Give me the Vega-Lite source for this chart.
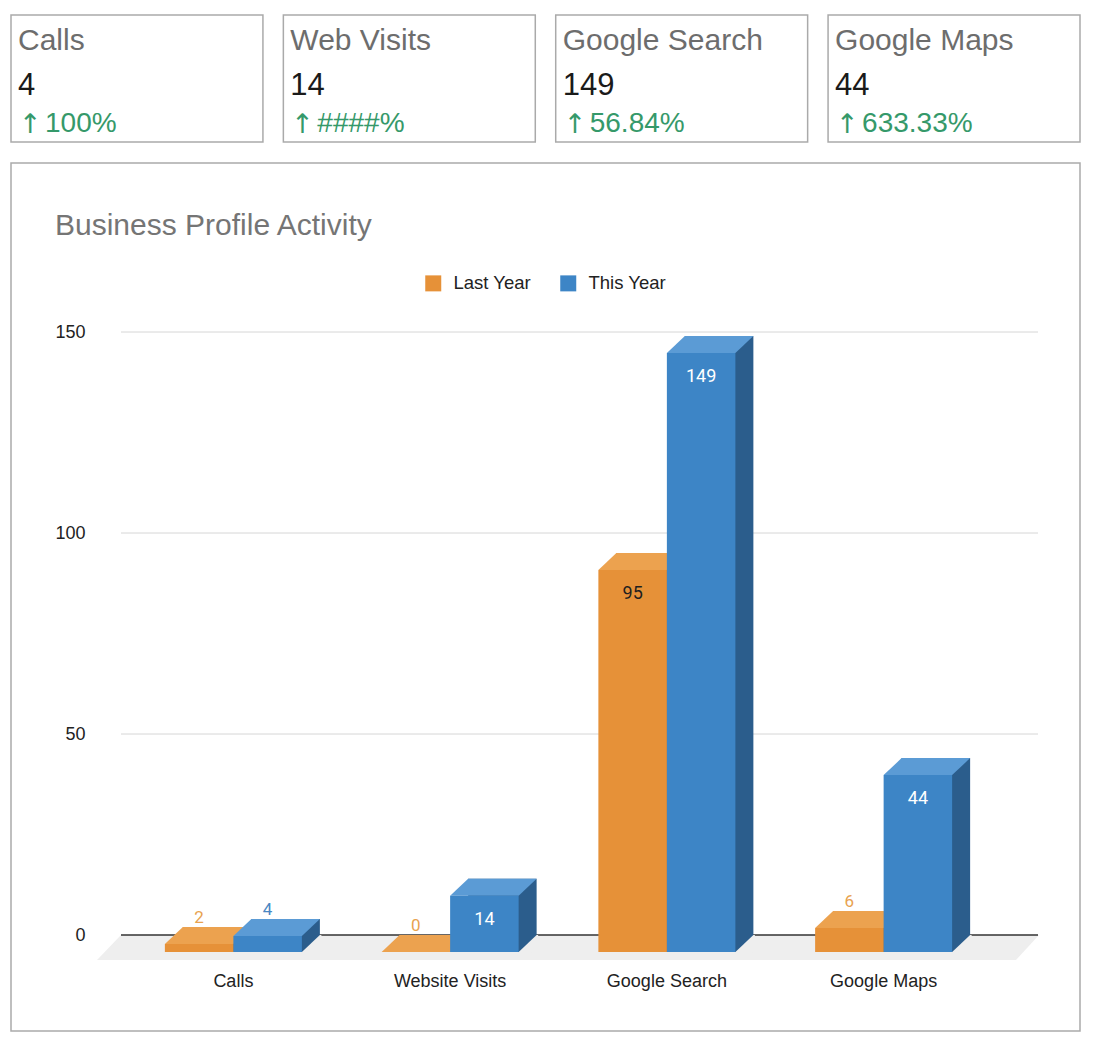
{
  "$schema": "https://vega.github.io/schema/vega-lite/v6.json",
  "background": "white",
  "padding": {"left": 10, "top": 14, "right": 0, "bottom": 0},
  "spacing": 19,
  "config": {
    "font": "Liberation Sans",
    "view": {"stroke": null}
  },
  "vconcat": [
    {
      "width": 1069,
      "height": 127,
      "data": {
        "values": [
          {"metric": "Calls", "total": 4, "change": "100%"},
          {"metric": "Web Visits", "total": 14, "change": "####%"},
          {"metric": "Google Search", "total": 149, "change": "56.84%"},
          {"metric": "Google Maps", "total": 44, "change": "633.33%"}
        ]
      },
      "encoding": {
        "x": {
          "field": "metric",
          "type": "nominal",
          "sort": null,
          "scale": {"type": "band", "paddingInner": 0.075, "paddingOuter": 0},
          "axis": null
        }
      },
      "layer": [
        {"mark": {"type": "bar", "fill": "white", "stroke": "#aaaaaa", "strokeWidth": 1.5}},
        {
          "mark": {"type": "text", "align": "left", "baseline": "alphabetic", "dx": 7, "dy": -29, "fontSize": 30, "color": "#6d6d6d"},
          "encoding": {
            "x": {"field": "metric", "type": "nominal", "sort": null, "bandPosition": 0},
            "text": {"field": "metric"}
          }
        },
        {
          "mark": {"type": "text", "align": "left", "baseline": "alphabetic", "dx": 7, "dy": 16.5, "fontSize": 31, "color": "#1a1a1a"},
          "encoding": {
            "x": {"field": "metric", "type": "nominal", "sort": null, "bandPosition": 0},
            "text": {"field": "total", "type": "quantitative"}
          }
        },
        {
          "mark": {"type": "text", "align": "left", "baseline": "alphabetic", "dx": 8, "dy": 54, "fontSize": 27, "font": "DejaVu Sans", "color": "#35996a"},
          "encoding": {
            "x": {"field": "metric", "type": "nominal", "sort": null, "bandPosition": 0},
            "text": {"value": "↑"}
          }
        },
        {
          "mark": {"type": "text", "align": "left", "baseline": "alphabetic", "dx": 34, "dy": 53.5, "fontSize": 28, "color": "#35996a"},
          "encoding": {
            "x": {"field": "metric", "type": "nominal", "sort": null, "bandPosition": 0},
            "text": {"field": "change"}
          }
        }
      ]
    },
    {
      "width": 1069,
      "height": 868,
      "view": {"stroke": "#aaaaaa", "strokeWidth": 1.5, "fill": "white"},
      "title": {
        "text": "Business Profile Activity",
        "anchor": "start",
        "frame": "group",
        "fontSize": 30,
        "fontWeight": "normal",
        "color": "#757575",
        "baseline": "alphabetic",
        "offset": 0,
        "dx": 44,
        "dy": 102
      },
      "data": {
        "values": [
          {"metric": "Calls", "series": "Last Year", "v": 2},
          {"metric": "Calls", "series": "This Year", "v": 4},
          {"metric": "Website Visits", "series": "Last Year", "v": 0},
          {"metric": "Website Visits", "series": "This Year", "v": 14},
          {"metric": "Google Search", "series": "Last Year", "v": 95},
          {"metric": "Google Search", "series": "This Year", "v": 149},
          {"metric": "Google Maps", "series": "Last Year", "v": 6},
          {"metric": "Google Maps", "series": "This Year", "v": 44}
        ]
      },
      "resolve": {"scale": {"x": "independent"}},
      "layer": [
        {
          "data": {"values": [{"t": 0}, {"t": 50}, {"t": 100}, {"t": 150}]},
          "encoding": {
            "x": {"datum": 0, "type": "quantitative", "scale": {"domain": [0, 1], "range": [110, 1027]}, "axis": null},
            "y": {
              "field": "t",
              "type": "quantitative",
              "scale": {"domain": [0, 150], "range": [772, 169], "nice": false},
              "axis": {
                "orient": "left",
                "offset": -100,
                "title": null,
                "domain": false,
                "ticks": false,
                "tickSize": 0,
                "grid": false,
                "values": [0, 50, 100, 150],
                "labelPadding": 26,
                "labelFontSize": 18,
                "labelColor": "#222222"
              }
            }
          },
          "layer": [
            {
              "transform": [{"filter": "datum.t == 0"}],
              "mark": {"type": "point", "shape": "M0,0L918,0L895,25L-24,25Z", "size": 4, "filled": true, "opacity": 1, "color": "#eeeeee", "strokeWidth": 0}
            },
            {
              "transform": [{"filter": "datum.t > 0"}],
              "mark": {"type": "rule", "color": "#d6d6d6", "strokeWidth": 1},
              "encoding": {"x2": {"datum": 1}}
            },
            {
              "transform": [{"filter": "datum.t == 0"}],
              "mark": {"type": "rule", "color": "#333333", "strokeWidth": 1.5},
              "encoding": {"x2": {"datum": 1}}
            }
          ]
        },
        {
          "encoding": {
            "x": {
              "field": "metric",
              "type": "nominal",
              "sort": null,
              "scale": {
                "type": "band",
                "domain": ["Calls", "Website Visits", "Google Search", "Google Maps"],
                "range": [114, 981],
                "paddingInner": 0.37,
                "paddingOuter": 0.185
              },
              "axis": {
                "orient": "bottom",
                "offset": -66,
                "title": null,
                "domain": false,
                "ticks": false,
                "labelAngle": 0,
                "labelPadding": 7,
                "labelFontSize": 18,
                "labelColor": "#222222"
              }
            },
            "y": {
              "field": "v",
              "type": "quantitative",
              "stack": null,
              "scale": {"domain": [0, 150], "range": [772, 169], "nice": false},
              "axis": {
                "orient": "left",
                "offset": -100,
                "title": null,
                "domain": false,
                "ticks": false,
                "tickSize": 0,
                "grid": false,
                "values": [0, 50, 100, 150],
                "labelPadding": 26,
                "labelFontSize": 18,
                "labelColor": "#222222"
              }
            }
          },
          "layer": [
            {
              "transform": [{"filter": "datum.series == 'Last Year'"}],
              "mark": {"type": "bar", "width": 68.5, "xOffset": -16.25, "yOffset": 0, "y2Offset": 17, "color": "#b8722b"},
              "encoding": {"y2": {"datum": 0}}
            },
            {
              "transform": [{"filter": "datum.series == 'Last Year'"}],
              "mark": {"type": "point", "shape": "M34.25,0L52.25,-17L53.75,-17L53.75,0.5Z", "size": 4, "filled": true, "opacity": 1, "strokeWidth": 0, "color": "#eeeeee", "xOffset": -34.25, "yOffset": 17},
              "encoding": {"y": {"datum": 0, "type": "quantitative"}}
            },
            {
              "transform": [{"filter": "datum.series == 'Last Year'"}],
              "mark": {"type": "point", "shape": "M-34.25,0L34.25,0L52.25,-17L-16.25,-17Z", "size": 4, "filled": true, "opacity": 1, "strokeWidth": 0, "color": "#eca24f", "xOffset": -34.25, "yOffset": 17}
            },
            {
              "transform": [{"filter": "datum.series == 'Last Year'"}],
              "mark": {"type": "bar", "width": 68.5, "xOffset": -34.25, "yOffset": 17, "y2Offset": 17},
              "encoding": {
                "y2": {"datum": 0},
                "color": {
                  "field": "series",
                  "type": "nominal",
                  "scale": {"domain": ["Last Year", "This Year"], "range": ["#e69138", "#3d85c6"]},
                  "legend": {
                    "orient": "none",
                    "legendX": 413,
                    "legendY": 259,
                    "direction": "horizontal",
                    "title": null,
                    "padding": 0,
                    "symbolType": "square",
                    "symbolSize": 256,
                    "symbolStrokeWidth": 0,
                    "symbolOpacity": 1,
                    "labelFontSize": 18.5,
                    "labelColor": "#222222",
                    "labelOffset": 11,
                    "columnPadding": 28
                  }
                }
              }
            },
            {
              "transform": [{"filter": "datum.series == 'This Year'"}],
              "mark": {"type": "bar", "width": 68.5, "xOffset": 52.25, "yOffset": 0, "y2Offset": 17, "color": "#2b5d8c"},
              "encoding": {"y2": {"datum": 0}}
            },
            {
              "transform": [{"filter": "datum.series == 'This Year'"}],
              "mark": {"type": "point", "shape": "M34.25,0L52.25,-17L53.75,-17L53.75,0.5Z", "size": 4, "filled": true, "opacity": 1, "strokeWidth": 0, "color": "#eeeeee", "xOffset": 34.25, "yOffset": 17},
              "encoding": {"y": {"datum": 0, "type": "quantitative"}}
            },
            {
              "transform": [{"filter": "datum.series == 'This Year'"}],
              "mark": {"type": "point", "shape": "M-34.25,0L34.25,0L52.25,-17L-16.25,-17Z", "size": 4, "filled": true, "opacity": 1, "strokeWidth": 0, "color": "#5b9bd5", "xOffset": 34.25, "yOffset": 17}
            },
            {
              "transform": [{"filter": "datum.series == 'This Year'"}],
              "mark": {"type": "bar", "width": 68.5, "xOffset": 34.25, "yOffset": 17, "y2Offset": 17},
              "encoding": {
                "y2": {"datum": 0},
                "color": {
                  "field": "series",
                  "type": "nominal",
                  "scale": {"domain": ["Last Year", "This Year"], "range": ["#e69138", "#3d85c6"]}
                }
              }
            },
            {
              "transform": [{"filter": "datum.series == 'Last Year' && datum.v < 10"}],
              "mark": {"type": "text", "font": "Roboto", "fontSize": 17, "baseline": "middle", "xOffset": -34.25, "yOffset": -9, "color": "#e8a24f"},
              "encoding": {"text": {"field": "v", "type": "quantitative"}}
            },
            {
              "transform": [{"filter": "datum.series == 'This Year' && datum.v < 10"}],
              "mark": {"type": "text", "font": "Roboto", "fontSize": 17, "baseline": "middle", "xOffset": 34.25, "yOffset": -9, "color": "#4a87c3"},
              "encoding": {"text": {"field": "v", "type": "quantitative"}}
            },
            {
              "transform": [{"filter": "datum.series == 'Last Year' && datum.v >= 10"}],
              "mark": {"type": "text", "font": "Roboto", "fontSize": 18, "baseline": "middle", "xOffset": -34.25, "yOffset": 41, "color": "#1f1f1f"},
              "encoding": {"text": {"field": "v", "type": "quantitative"}}
            },
            {
              "transform": [{"filter": "datum.series == 'This Year' && datum.v >= 10"}],
              "mark": {"type": "text", "font": "Roboto", "fontSize": 18, "baseline": "middle", "xOffset": 34.25, "yOffset": 41, "color": "#ffffff"},
              "encoding": {"text": {"field": "v", "type": "quantitative"}}
            }
          ]
        }
      ]
    }
  ]
}
